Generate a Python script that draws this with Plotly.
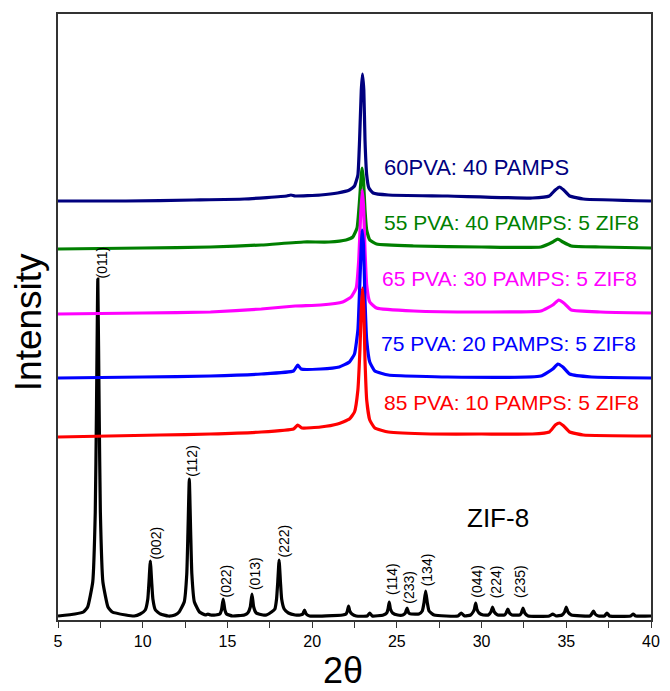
import plotly.graph_objects as go

# ---------------- data (2theta in degrees, intensity in arbitrary units) -------------
zif8_x = [5.0, 6.0, 6.5, 6.75, 7.05, 7.2, 7.27, 7.35, 7.43, 7.5, 7.65, 7.95, 8.2, 9.0,
          9.5, 9.85, 10.15, 10.3, 10.37, 10.45, 10.53, 10.6, 10.75, 11.05, 11.5,
          11.9, 12.15, 12.45, 12.6, 12.67, 12.75, 12.83, 12.9, 13.05, 13.35, 13.7, 13.85, 14.0,
          14.3, 14.55, 14.65, 14.75, 14.85, 14.95, 15.3,
          16.0, 16.2, 16.35, 16.45, 16.55, 16.7, 17.1,
          17.3, 17.6, 17.8, 17.9, 17.97, 18.05, 18.13, 18.2, 18.35, 18.6, 19.0,
          19.3, 19.45, 19.55, 19.65, 19.85,
          21.8, 22.0, 22.08, 22.15, 22.22, 22.35, 22.6,
          23.25, 23.4, 23.55,
          24.2, 24.4, 24.48, 24.55, 24.62, 24.75, 25.05,
          25.35, 25.5, 25.6, 25.7, 25.85,
          26.3, 26.5, 26.6, 26.7, 26.8, 26.9, 27.2,
          28.6, 28.8, 29.0,
          29.35, 29.5, 29.58, 29.65, 29.72, 29.85, 30.1,
          30.4, 30.55, 30.65, 30.75, 30.95,
          31.35, 31.45, 31.55, 31.65, 31.8,
          32.25, 32.35, 32.45, 32.55, 32.75,
          34.0, 34.2, 34.4,
          34.75, 34.9, 35.0, 35.1, 35.3,
          36.4, 36.5, 36.6, 36.7, 36.9,
          37.25, 37.4, 37.55,
          38.8, 38.95, 39.1, 40.0]
zif8_y = [4, 6, 8, 13, 38, 108, 209, 341, 209, 108, 38, 13, 8, 5,
          4, 6, 10, 21, 38, 59, 38, 21, 10, 6, 4,
          5, 8, 18, 46, 88, 141, 88, 46, 18, 8, 5, 6, 5,
          5, 6, 10, 21, 10, 6, 4,
          5, 7, 13, 26, 13, 7, 5,
          5, 8, 11, 21, 38, 60, 38, 21, 11, 7, 5,
          5, 6, 10, 6, 4,
          5, 6, 9, 14, 9, 6, 4,
          4, 7, 4,
          5, 7, 11, 18, 11, 7, 5,
          5, 7, 12, 7, 6,
          6, 9, 17, 29, 17, 9, 5,
          4, 7, 4,
          5, 8, 11, 17, 11, 7, 5,
          5, 8, 13, 8, 5,
          5, 7, 11, 7, 5,
          5, 7, 12, 7, 4,
          4, 6, 4,
          5, 8, 13, 8, 5,
          4, 6, 9, 6, 4,
          4, 7, 4,
          4, 6, 4, 4]

pva60_x = [5, 9, 13, 16, 18.5, 18.75, 19.0, 20.5, 21.5, 22.2, 22.5, 22.7, 22.8, 22.9, 22.97,
           23.05, 23.12, 23.22, 23.35, 23.6, 24.5, 28, 33, 34.0, 34.35, 34.6, 34.85, 35.2, 36, 40]
pva60_y = [419, 419, 420, 421, 424, 425, 424, 425, 427, 430, 434, 445, 480, 530, 546,
           530, 480, 445, 432, 427, 425, 424, 422, 424, 430, 433, 430, 424, 421, 419]

pva55_x = [5, 10, 14, 17, 19.5, 21, 22.0, 22.4, 22.65, 22.8, 22.9, 22.95, 23.03, 23.12, 23.22,
           23.4, 23.8, 26, 30, 33.5, 34.2, 34.5, 34.8, 35.3, 37, 40]
pva55_y = [371, 372, 373, 375, 378, 378, 380, 383, 392, 420, 445, 452, 440, 410, 390,
           380, 376, 374, 373, 373, 378, 381, 378, 374, 373, 372]

pva65_x = [5, 10, 14, 17, 19, 20.5, 21.8, 22.3, 22.6, 22.75, 22.85, 22.95, 23.03, 23.12, 23.22,
           23.4, 23.8, 26, 30, 33.5, 34.2, 34.55, 34.85, 35.3, 37, 40]
pva65_y = [306, 307, 308, 311, 314, 315, 318, 323, 332, 360, 400, 430, 415, 370, 335,
           318, 312, 309, 308, 309, 315, 320, 317, 310, 308, 307]

pva75_x = [5, 10, 14, 17, 18.9, 19.15, 19.35, 20.5, 21.6, 22.2, 22.5, 22.7, 22.8, 22.9, 22.95,
           23.03, 23.12, 23.22, 23.4, 23.7, 24.5, 28, 33.5, 34.2, 34.5, 34.8, 35.2, 36.5, 40]
pva75_y = [242, 243, 244, 246, 249, 255, 251, 251, 253, 258, 266, 290, 330, 375, 390,
           375, 320, 280, 258, 249, 245, 243, 244, 251, 256, 253, 246, 243, 242]

pva85_x = [5, 8, 11, 14, 17, 18.9, 19.15, 19.4, 20.5, 21.5, 22.2, 22.5, 22.7, 22.82, 22.9, 22.97,
           23.05, 23.12, 23.22, 23.4, 23.7, 24.5, 27, 30, 33, 34.0, 34.35, 34.6, 34.85, 35.2, 36, 40]
pva85_y = [183, 184, 185, 186, 188, 191, 195, 192, 193, 196, 201, 208, 230, 270, 310, 332,
           310, 260, 220, 200, 192, 188, 186, 186, 186, 188, 195, 197, 194, 188, 185, 184]

series_names = ["ZIF-8", "60PVA: 40 PAMPS", "55 PVA: 40 PAMPS: 5 ZIF8",
                "65 PVA: 30 PAMPS: 5 ZIF8", "75 PVA: 20 PAMPS: 5 ZIF8", "85 PVA: 10 PAMPS: 5 ZIF8"]
series_colors = ["#000000", "#00007F", "#007F00", "#FF00FF", "#0000FF", "#FF0000"]

# series label positions (2theta of left edge, intensity) and font sizes
label_x = [30.95, 24.13, 24.13, 24.0, 23.95, 24.13]
label_y = [102, 453, 398, 342, 277, 218]
label_size = [26, 22, 21, 21, 21, 21]

# Miller indices of ZIF-8 reflections and label positions
hkl_text = ["(011)", "(002)", "(112)", "(022)", "(013)", "(222)",
            "(114)", "(233)", "(134)", "(044)", "(224)", "(235)"]
hkl_x = [7.62, 10.76, 12.9, 14.94, 16.63, 18.31, 24.71, 25.7, 26.8, 29.71, 30.87, 32.27]
hkl_y = [358, 77, 159, 39, 46, 79, 41, 33, 50, 39, 38, 38]

x_ticks = [5, 10, 15, 20, 25, 30, 35, 40]

# ---------------- figure -------------
FONT = "Arial, Liberation Sans, sans-serif"
fig = go.Figure()
curves = [(zif8_x, zif8_y), (pva60_x, pva60_y), (pva55_x, pva55_y),
          (pva65_x, pva65_y), (pva75_x, pva75_y), (pva85_x, pva85_y)]
for (xs, ys), name, col in zip(curves, series_names, series_colors):
    fig.add_trace(go.Scatter(x=xs, y=ys, mode="lines", name=name,
                             line=dict(color=col, width=3.2, shape="spline", smoothing=0.4),
                             showlegend=False, hoverinfo="skip"))

# series labels
for i, (name, col) in enumerate(zip(series_names, series_colors)):
    fig.add_annotation(x=label_x[i], y=label_y[i], text=name, showarrow=False,
                       xanchor="center" if i == 0 else "left", yanchor="middle",
                       font=dict(family=FONT, size=label_size[i], color=col))

for t, hx, hy in zip(hkl_text, hkl_x, hkl_y):
    fig.add_annotation(x=hx, y=hy, text=t, showarrow=False, textangle=-90,
                       xanchor="center", yanchor="middle",
                       font=dict(family=FONT, size=14, color="#000000"))

# axis titles as annotations
fig.add_annotation(xref="paper", yref="paper", x=-0.05, y=0.492, text="Intensity",
                   showarrow=False, textangle=-90, xanchor="center", yanchor="middle",
                   font=dict(family=FONT, size=37, color="#000000"))
fig.add_annotation(xref="paper", yref="paper", x=0.48, y=-0.084, text="2θ",
                   showarrow=False, xanchor="center", yanchor="middle",
                   font=dict(family=FONT, size=36, color="#000000"))

fig.update_layout(
    width=670, height=691, autosize=False,
    margin=dict(l=58, r=10, t=14, b=71),
    paper_bgcolor="white", plot_bgcolor="white",
    font=dict(family=FONT, color="#000000"),
    xaxis=dict(range=[5, 40], tickvals=x_ticks, ticks="outside", ticklen=6, tickwidth=1.2,
               tickcolor="#333333", showline=True, linecolor="#333333", linewidth=1.5,
               mirror=True, showgrid=False, zeroline=False,
               tickfont=dict(family=FONT, size=16, color="#000000"),
               minor=dict(dtick=2.5, tick0=5, ticks="outside", ticklen=6, tickwidth=1.2,
                          tickcolor="#333333", showgrid=False)),
    yaxis=dict(range=[0, 606], showticklabels=False, ticks="", showline=True,
               linecolor="#333333", linewidth=1.5, mirror=True, showgrid=False,
               zeroline=False),
)

fig.write_html("out.html",
               config={"responsive": False, "displayModeBar": False},
               post_script="document.body.style.margin='0';document.body.style.overflow='hidden';")
